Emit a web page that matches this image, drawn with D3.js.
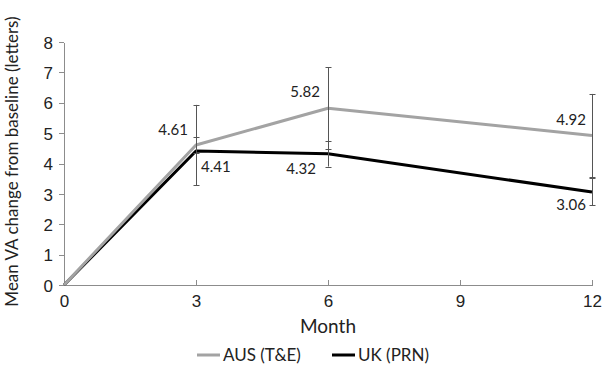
<!DOCTYPE html>
<meta charset="utf-8">
<style>
body { margin: 0; background: #fff; }
svg { font-family: Lato, "Open Sans", sans-serif; }
.axis path, .axis line { stroke: #8c8c8c; shape-rendering: crispEdges; }
.axis text { font-size: 17px; fill: #222; }
.lbl { font-size: 15px; fill: #222; }
</style>
<body>
<div id="chart"></div>
<script src="https://cdn.jsdelivr.net/npm/d3@7"></script>
<script>
// months on the x axis
var months = [0, 3, 6, 12];
var xTicks = [0, 3, 6, 9, 12];
var yTicks = [0, 1, 2, 3, 4, 5, 6, 7, 8];

// mean VA change
var ausVals = [0, 4.61, 5.82, 4.92];
var ukVals = [0, 4.41, 4.32, 3.06];

// error bar ends (null = no bar)
var ausLo = [null, 3.29, 4.47, 3.55];
var ausHi = [null, 5.93, 7.17, 6.29];
var ukLo = [null, 4.33, 3.90, 2.62];
var ukHi = [null, 4.88, 4.74, 3.51];

var margin = {top: 42, right: 11, bottom: 81, left: 64},
    W = 603, H = 366,
    width = W - margin.left - margin.right,
    height = H - margin.top - margin.bottom;

var svg = d3.select("#chart").append("svg")
    .attr("width", W).attr("height", H)
  .append("g")
    .attr("transform", "translate(" + margin.left + "," + margin.top + ")");

var x = d3.scaleLinear().domain([0, 12]).range([0, width]);
var y = d3.scaleLinear().domain([0, 8]).range([height, 0]);

svg.append("g").attr("class", "axis")
    .call(d3.axisLeft(y).tickValues(yTicks).tickSize(5).tickPadding(6).tickSizeOuter(0))
    .selectAll("text").attr("dy", "0.36em");

svg.append("g").attr("class", "axis")
    .attr("transform", "translate(0," + height + ")")
    .call(d3.axisBottom(x).tickValues(xTicks).tickSize(-5).tickPadding(8).tickSizeOuter(0))
    .selectAll("text").attr("dy", "0.85em");

var series = [
  {name: "UK (PRN)", vals: ukVals, lo: ukLo, hi: ukHi, color: "#000"},
  {name: "AUS (T&E)", vals: ausVals, lo: ausLo, hi: ausHi, color: "#a3a3a3"}
];

var line = d3.line()
    .x(function(d, i) { return x(months[i]); })
    .y(function(d) { return y(d); });

series.forEach(function(s) {
  svg.append("path")
      .datum(s.vals)
      .attr("d", line)
      .attr("fill", "none")
      .attr("stroke", s.color)
      .attr("stroke-width", 3)
      .attr("stroke-linejoin", "round");
});

// error bars
series.forEach(function(s) {
  months.forEach(function(m, i) {
    if (s.lo[i] == null) return;
    var g = svg.append("g").attr("stroke", "#555").attr("stroke-width", 1);
    var cx = Math.round(x(m)) + 0.5;
    g.append("line").attr("x1", cx).attr("x2", cx)
        .attr("y1", y(s.lo[i])).attr("y2", y(s.hi[i]));
    [s.lo[i], s.hi[i]].forEach(function(v) {
      g.append("line").attr("x1", cx - 3).attr("x2", cx + 3)
          .attr("y1", Math.round(y(v)) + 0.5).attr("y2", Math.round(y(v)) + 0.5);
    });
  });
});

// value labels
var ausLbl = [null, {dx: -8, dy: -10, a: "end"}, {dx: -8, dy: -11, a: "end"}, {dx: -6, dy: -11, a: "end"}];
var ukLbl = [null, {dx: 5, dy: 21, a: "start"}, {dx: -12, dy: 20, a: "end"}, {dx: -6, dy: 18, a: "end"}];
[[ausVals, ausLbl], [ukVals, ukLbl]].forEach(function(p) {
  p[0].forEach(function(v, i) {
    var o = p[1][i];
    if (!o) return;
    svg.append("text").attr("class", "lbl")
        .attr("x", x(months[i]) + o.dx)
        .attr("y", y(v) + o.dy)
        .attr("text-anchor", o.a)
        .text(v.toFixed(2));
  });
});

// axis titles
svg.append("text")
    .attr("transform", "translate(" + (-46) + "," + (height / 2 - 2) + ") rotate(-90)")
    .attr("text-anchor", "middle")
    .style("font-size", "17px").style("fill", "#222")
    .text("Mean VA change from baseline (letters)");

svg.append("text")
    .attr("x", width / 2).attr("y", height + 48)
    .attr("text-anchor", "middle")
    .style("font-size", "19px").style("fill", "#222")
    .text("Month");

// legend
var legend = svg.append("g").attr("transform", "translate(" + (197 - margin.left) + "," + (355 - margin.top) + ")");
var legItems = [series[1], series[0]];
var legX = [0, 135];
legItems.forEach(function(s, i) {
  var g = legend.append("g").attr("transform", "translate(" + legX[i] + ",0)");
  g.append("line").attr("x1", 0).attr("x2", 23).attr("y1", 0).attr("y2", 0)
      .attr("stroke", s.color).attr("stroke-width", 3);
  g.append("text").attr("x", 26).attr("dy", "0.35em")
      .style("font-size", "17px").style("fill", "#222")
      .text(s.name);
});
</script>
</body>
